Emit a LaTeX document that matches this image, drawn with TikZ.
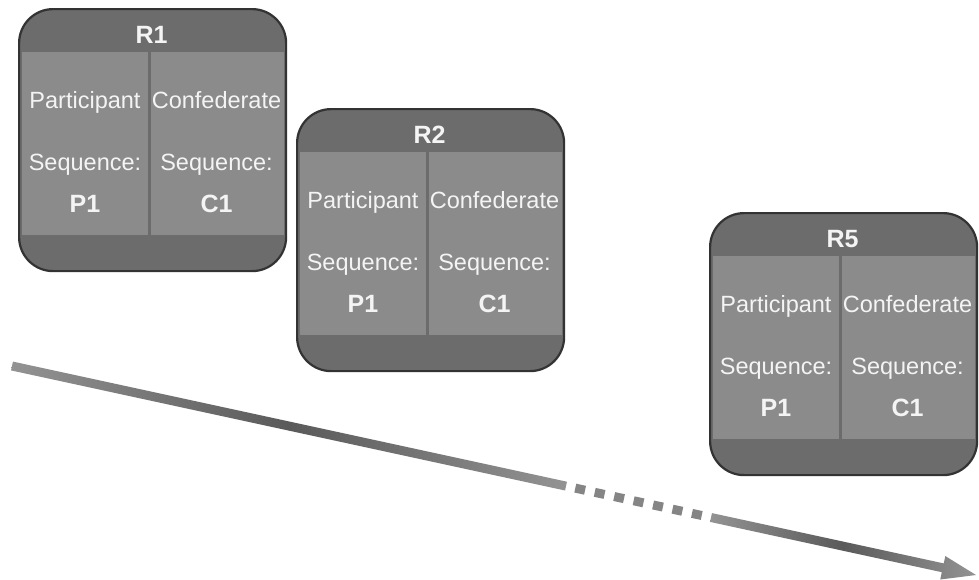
\documentclass[tikz,border=0pt]{standalone}
\usepackage{fontspec}
\setmainfont{Liberation Sans}
\usetikzlibrary{calc,shadings}
\definecolor{boxdark}{HTML}{6C6C6C}
\definecolor{boxpanel}{HTML}{8B8B8B}
\definecolor{boxline}{HTML}{333333}
\definecolor{txt}{HTML}{F4F4F4}
\definecolor{arrlight}{HTML}{939393}
\definecolor{arrdark}{HTML}{5A5A5A}
\definecolor{dashgray}{HTML}{858585}
\tikzset{
  roundbox/.style={rectangle, rounded corners=34pt, minimum width=267pt, minimum height=262pt,
    inner sep=0pt, fill=boxdark, draw=boxline, line width=2.2pt, anchor=north west},
  panel/.style={fill=boxpanel},
  boxtext/.style={text=txt, font=\fontsize{23.5}{27}\selectfont, inner sep=0pt, anchor=base},
  boldtext/.style={boxtext, font=\fontsize{25}{29}\selectfont\bfseries},
  arrbody/.style={left color=arrlight, right color=arrlight, middle color=arrdark},
  arrdash/.style={draw=dashgray, line width=9pt, dash pattern=on 10pt off 9.9pt},
}
\newcommand\roundcard[4]{%
  \node[roundbox] (#1) at (#2,#3) {};
  \fill[panel] ([xshift=4pt,yshift=-44pt]#1.north west) rectangle ([xshift=130pt,yshift=37pt]#1.south west);
  \fill[panel] ([xshift=133pt,yshift=-44pt]#1.north west) rectangle ([xshift=-3pt,yshift=37pt]#1.south east);
  \node[boldtext] (#1-title) at ([xshift=133.5pt,yshift=-35pt]#1.north west) {#4};
  \node[boxtext] (#1-pl) at ([xshift=67pt,yshift=-100pt]#1.north west) {Participant};
  \node[boxtext] (#1-cl) at ([xshift=198.5pt,yshift=-100pt]#1.north west) {Confederate};
  \node[boxtext] (#1-ps) at ([xshift=67pt,yshift=-162pt]#1.north west) {Sequence:};
  \node[boxtext] (#1-cs) at ([xshift=198.5pt,yshift=-162pt]#1.north west) {Sequence:};
  \node[boldtext] (#1-pv) at ([xshift=67pt,yshift=-204pt]#1.north west) {P1};
  \node[boldtext] (#1-cv) at ([xshift=198.5pt,yshift=-204pt]#1.north west) {C1};
}
\begin{document}
\begin{tikzpicture}[x=1pt,y=-1pt]
\useasboundingbox[fill=white] (0,0) rectangle (979,579);
\roundcard{r1}{18}{8}{R1}
\roundcard{r2}{296}{108}{R2}
\roundcard{r5}{709}{212}{R5}
% timeline arrow
\coordinate (s0) at (12,366);
\coordinate (s1) at (566,486.1);
\coordinate (s2) at (711,517.5);
\coordinate (tip) at (976,575);
\coordinate (hb) at ($(tip)!34pt!(s2)$);
\shade[arrbody] ($(s0)!4.5pt!90:(s1)$) -- ($(s1)!4.5pt!-90:(s0)$) -- ($(s1)!4.5pt!90:(s0)$) -- ($(s0)!4.5pt!-90:(s1)$) -- cycle;
\draw[arrdash] ($(s1)!9.5pt!(s2)$) -- ($(s2)!9.5pt!(s1)$);
\shade[arrbody] ($(s2)!4.5pt!90:(tip)$) -- ($(hb)!4.5pt!-90:(s2)$) -- ($(hb)!12pt!-90:(s2)$) -- (tip)
  -- ($(hb)!12pt!90:(s2)$) -- ($(hb)!4.5pt!90:(s2)$) -- ($(s2)!4.5pt!-90:(tip)$) -- cycle;
\end{tikzpicture}
\end{document}
